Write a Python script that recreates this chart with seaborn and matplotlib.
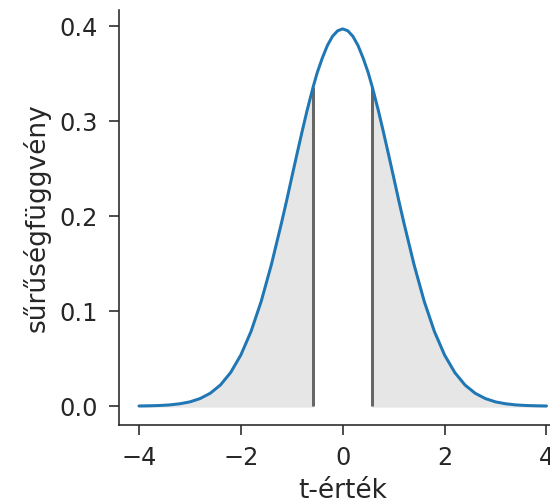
import numpy as np
import pandas as pd
import matplotlib
matplotlib.use("Agg")
import matplotlib.pyplot as plt
import seaborn as sns

# values (t-distribution density)
t_values = [-4.0, -3.8, -3.6, -3.4, -3.2, -3.0, -2.8, -2.6, -2.4, -2.2, -2.0,
            -1.8, -1.6, -1.4, -1.2, -1.1, -1.0, -0.9, -0.8, -0.7, -0.58,
            -0.5, -0.4, -0.3, -0.2, -0.1, 0.0,
            0.1, 0.2, 0.3, 0.4, 0.5,
            0.58, 0.7, 0.8, 0.9, 1.0, 1.1, 1.2, 1.4, 1.6, 1.8, 2.0,
            2.2, 2.4, 2.6, 2.8, 3.0, 3.2, 3.4, 3.6, 3.8, 4.0]
density = [0.0002, 0.0004, 0.0007, 0.0013, 0.0025, 0.0045, 0.0080, 0.0136, 0.0223, 0.0354, 0.0538,
           0.0786, 0.1103, 0.1490, 0.1932, 0.2165, 0.2408, 0.2648, 0.2883, 0.3110, 0.3360,
           0.3510, 0.3664, 0.3796, 0.3892, 0.3950, 0.3970,
           0.3950, 0.3892, 0.3796, 0.3664, 0.3510,
           0.3360, 0.3110, 0.2883, 0.2648, 0.2408, 0.2165, 0.1932, 0.1490, 0.1103, 0.0786, 0.0538,
           0.0354, 0.0223, 0.0136, 0.0080, 0.0045, 0.0025, 0.0013, 0.0007, 0.0004, 0.0002]
t_crit = [-0.58, 0.58]

df = pd.DataFrame({"t": t_values, "pdf": density})

sns.set_style("ticks")
plt.rcParams["xtick.labelsize"] = 12
plt.rcParams["ytick.labelsize"] = 12
plt.rcParams["axes.labelsize"] = 13.2
plt.rcParams["xtick.major.size"] = 5
plt.rcParams["ytick.major.size"] = 5
plt.rcParams["xtick.major.pad"] = 5.5
plt.rcParams["ytick.major.pad"] = 5.5

fig = plt.figure(figsize=(550 / 144, 504 / 144), dpi=144)
ax = fig.add_axes([0.2156, 0.1567, 0.815, 0.8234])

# shaded tails
left = df[df["t"] <= t_crit[0]]
right = df[df["t"] >= t_crit[1]]
ax.fill_between(left["t"], left["pdf"], color="0.9")
ax.fill_between(right["t"], right["pdf"], color="0.9")

# vertical lines at the critical values
crit_heights = df.set_index("t").loc[t_crit, "pdf"].values
ax.vlines(t_crit, 0, crit_heights, color="0.4", lw=1.5)

sns.lineplot(data=df, x="t", y="pdf", color="#1f77b4", lw=1.5, ax=ax)

ax.set_xticks([-4, -2, 0, 2, 4])
ax.set_yticks([0.0, 0.1, 0.2, 0.3, 0.4])
ax.set_xlabel("t-érték")
ax.set_ylabel("sűrűségfüggvény")
sns.despine(ax=ax)

fig.savefig("out.png", dpi=144)
